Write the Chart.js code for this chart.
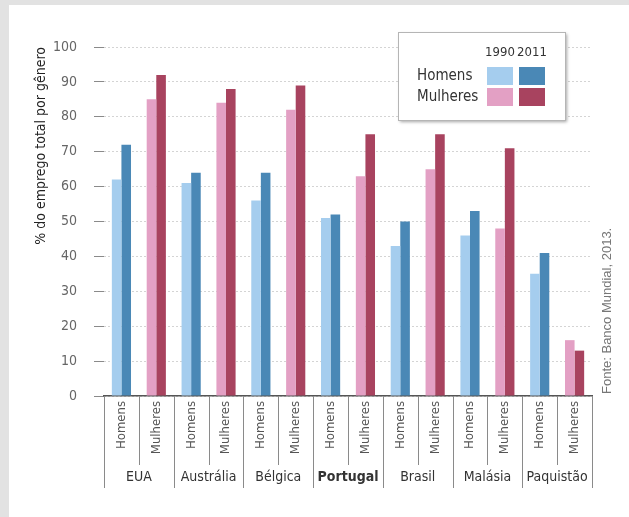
<!DOCTYPE html>
<html lang="pt">
  <head>
    <meta charset="UTF-8" />
    <title>Emprego por gênero</title>
    <style>
      html, body { margin: 0; padding: 0; background: #fff; }
      canvas { display: block; }
    </style>
  </head>
  <body>
    <canvas id="chart-1" width="629" height="517"></canvas>
    <script src="https://cdn.jsdelivr.net/npm/chart.js"></script>
    <script>
      const countries = ["EUA", "Austrália", "Bélgica", "Portugal", "Brasil", "Malásia", "Paquistão"];
      const groups = ["Homens", "Mulheres"];
      const years = ["1990", "2011"];
      const homens1990 = [62, 61, 56, 51, 43, 46, 35];
      const homens2011 = [72, 64, 64, 52, 50, 53, 41];
      const mulheres1990 = [85, 84, 82, 63, 65, 48, 16];
      const mulheres2011 = [92, 88, 89, 75, 75, 71, 13];
      const yTicks = [0, 10, 20, 30, 40, 50, 60, 70, 80, 90, 100];
      const source = "Fonte: Banco Mundial, 2013.";

      const NARROW = "'Liberation Sans Narrow', 'DejaVu Sans Condensed', sans-serif";
      const colors = {
        Homens: ["#a5cdee", "#4a88b6"],
        Mulheres: ["#e3a0c4", "#a8435f"]
      };

      // one bar slot per (country, group)
      const labels = [];
      const d1990 = [];
      const d2011 = [];
      const c1990 = [];
      const c2011 = [];
      countries.forEach((c, i) => {
        labels.push("Homens", "Mulheres");
        d1990.push(homens1990[i], mulheres1990[i]);
        d2011.push(homens2011[i], mulheres2011[i]);
        c1990.push(colors.Homens[0], colors.Mulheres[0]);
        c2011.push(colors.Homens[1], colors.Mulheres[1]);
      });

      const decor = {
        id: "decor",
        beforeDraw(chart) {
          const ctx = chart.ctx;
          ctx.save();
          ctx.fillStyle = "#fff";
          ctx.fillRect(0, 0, chart.width, chart.height);
          ctx.fillStyle = "#e2e2e2";
          ctx.fillRect(0, 0, 9, chart.height);
          ctx.fillRect(0, 0, chart.width, 5);
          ctx.restore();
        },
        afterDraw(chart) {
          const ctx = chart.ctx;
          const x = chart.scales.x;
          const bottom = x.top;
          const step = (x.right - x.left) / labels.length;
          ctx.save();

          // separators under the axis
          ctx.strokeStyle = "#8a8a8a";
          ctx.lineWidth = 1;
          for (let i = 0; i <= labels.length; i++) {
            const px = Math.round(x.left + i * step) + 0.5;
            ctx.beginPath();
            ctx.moveTo(px, bottom);
            ctx.lineTo(px, i % 2 === 0 ? 488 : 465);
            ctx.stroke();
          }

          // country names
          ctx.fillStyle = "#333";
          ctx.textAlign = "center";
          ctx.textBaseline = "middle";
          countries.forEach((c, i) => {
            ctx.font = (c === "Portugal" ? "bold " : "") + "14px " + NARROW;
            ctx.fillText(c, x.left + (i * 2 + 1) * step, 477);
          });

          // legend box
          ctx.save();
          ctx.shadowColor = "rgba(0,0,0,0.35)";
          ctx.shadowBlur = 3;
          ctx.shadowOffsetX = 2;
          ctx.shadowOffsetY = 2;
          ctx.fillStyle = "#fff";
          ctx.fillRect(398, 32, 167, 88);
          ctx.restore();
          ctx.strokeStyle = "#b5b5b5";
          ctx.strokeRect(398.5, 32.5, 167, 88);

          ctx.fillStyle = "#333";
          ctx.font = "13px " + NARROW;
          ctx.textAlign = "center";
          ctx.fillText(years[0], 500, 53);
          ctx.fillText(years[1], 532, 53);
          ctx.font = "15px " + NARROW;
          ctx.textAlign = "left";
          groups.forEach((g, r) => {
            const y = 67 + r * 21;
            ctx.fillStyle = "#333";
            ctx.fillText(g, 417, y + 9);
            ctx.fillStyle = colors[g][0];
            ctx.fillRect(487, y, 26, 18);
            ctx.fillStyle = colors[g][1];
            ctx.fillRect(519, y, 26, 18);
          });

          // source note
          ctx.translate(607, 394);
          ctx.rotate(-Math.PI / 2);
          ctx.font = "13px 'Liberation Sans', Arial, sans-serif";
          ctx.fillStyle = "#777";
          ctx.textAlign = "left";
          ctx.fillText(source, 0, 0);
          ctx.restore();
        }
      };

      new Chart(document.getElementById("chart-1"), {
        type: "bar",
        data: {
          labels: labels,
          datasets: [
            { label: years[0], data: d1990, backgroundColor: c1990 },
            { label: years[1], data: d2011, backgroundColor: c2011 }
          ]
        },
        options: {
          responsive: false,
          animation: false,
          devicePixelRatio: 1,
          categoryPercentage: 0.55,
          barPercentage: 1,
          layout: { padding: { left: 0, top: 47, right: 37, bottom: 0 } },
          plugins: {
            legend: { display: false },
            tooltip: { enabled: false }
          },
          scales: {
            x: {
              afterFit(s) { s.height = 121; },
              grid: { display: false, drawTicks: false },
              border: { display: true, color: "#555", width: 1.5 },
              ticks: {
                minRotation: 90,
                maxRotation: 90,
                padding: 5,
                color: "#555",
                font: { family: NARROW, size: 13 }
              }
            },
            y: {
              min: 0,
              max: 100,
              afterFit(s) { s.width = 104; },
              afterBuildTicks(s) { s.ticks = yTicks.map(v => ({ value: v })); },
              grid: {
                color: "#d4d4d4",
                tickColor: "#8a8a8a",
                tickLength: 10,
                tickBorderDash: [],
                drawOnChartArea: true
              },
              border: { display: false, dash: [2, 2] },
              ticks: {
                padding: 17,
                color: "#666",
                font: { family: NARROW, size: 14 }
              },
              title: {
                display: true,
                text: "% do emprego total por gênero",
                align: "end",
                color: "#222",
                padding: { top: 33, bottom: 0 },
                font: { family: NARROW, size: 14, weight: "normal" }
              }
            }
          }
        },
        plugins: [decor]
      });
    </script>
  </body>
</html>
